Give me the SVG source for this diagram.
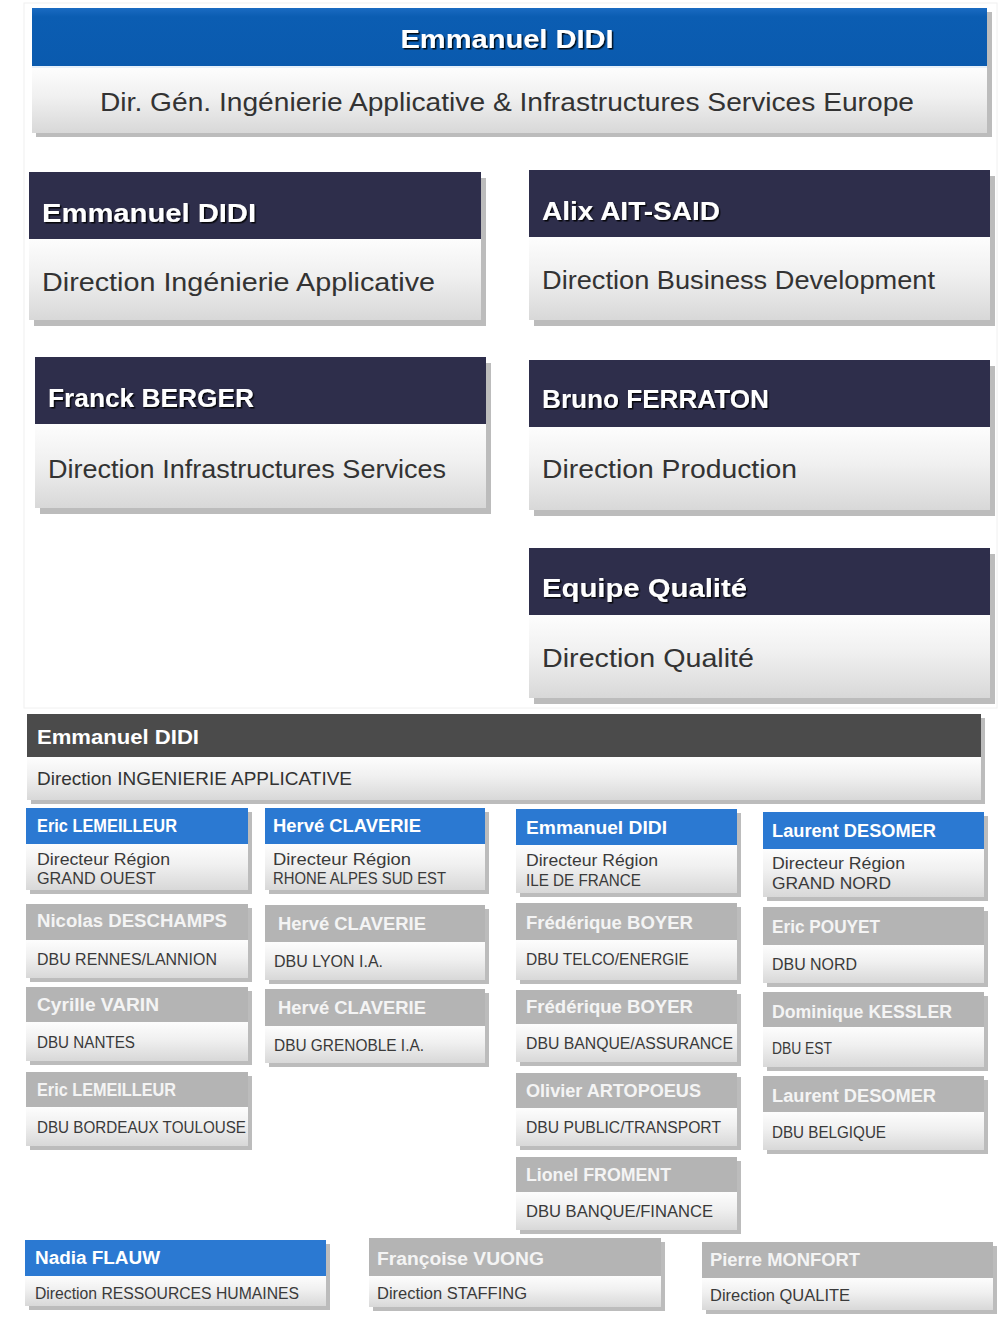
<svg xmlns="http://www.w3.org/2000/svg" width="1002" height="1325" viewBox="0 0 1002 1325">
<defs>
<linearGradient id="gBody" x1="0" y1="0" x2="0" y2="1">
<stop offset="0" stop-color="#fdfdfd"/>
<stop offset="0.45" stop-color="#f0f0f0"/>
<stop offset="1" stop-color="#d8d8d8"/>
</linearGradient>
<linearGradient id="gBlue" x1="0" y1="0" x2="0" y2="1">
<stop offset="0" stop-color="#1a6bc2"/>
<stop offset="0.15" stop-color="#0b5db2"/>
<stop offset="1" stop-color="#0a5aae"/>
</linearGradient>
<filter id="ts" x="-5%" y="-30%" width="110%" height="160%">
<feDropShadow dx="1.5" dy="1.5" stdDeviation="0.7" flood-color="#000" flood-opacity="0.85"/>
</filter>
</defs>
<style>
.sh{fill:#bcbcbc}
.body{fill:url(#gBody)}
.navy{fill:#2e2e4b}
.blue{fill:#2b79d2}
.gray{fill:#b4b4b4}
.dark{fill:#4b4b4b}
.t{font-family:"Liberation Sans",Arial,sans-serif}
.big{font-size:26px;font-weight:bold;fill:#fff}
.bigb{font-size:26px;fill:#333}
.mh{font-size:20px;font-weight:bold;fill:#fff}
.mb{font-size:19px;fill:#333}
.h{font-size:18px;font-weight:bold;fill:#fff}
.hg{font-size:18px;font-weight:bold;fill:#f4f4f4}
.b{font-size:16px;fill:#3a3a3a}
</style>
<rect width="1002" height="1325" fill="#fff"/>
<rect x="24" y="3" width="973" height="705" fill="none" stroke="#f0f0f0" stroke-width="1"/>

<g id="top">
<rect class="sh" x="36" y="12" width="956" height="125"/>
<rect x="32" y="8" width="955" height="58" fill="url(#gBlue)"/>
<rect x="32" y="66" width="955" height="2" fill="#e6f0fa"/>
<rect class="body" x="32" y="68" width="955" height="65"/>
<text class="t big" x="507" y="48" text-anchor="middle" textLength="213" lengthAdjust="spacingAndGlyphs" filter="url(#ts)">Emmanuel DIDI</text>
<text class="t bigb" x="507" y="111" text-anchor="middle" textLength="814" lengthAdjust="spacingAndGlyphs">Dir. Gén.  Ingénierie  Applicative &amp; Infrastructures Services  Europe</text>
</g>

<g id="card-didi">
<rect class="sh" x="34" y="178" width="452" height="148"/>
<rect class="navy" x="29" y="172" width="452" height="67"/>
<rect class="body" x="29" y="239" width="452" height="81"/>
<text class="t big" x="42" y="222" textLength="214" lengthAdjust="spacingAndGlyphs" filter="url(#ts)">Emmanuel DIDI</text>
<text class="t bigb" x="42" y="291" textLength="393" lengthAdjust="spacingAndGlyphs">Direction Ingénierie Applicative</text>
</g>

<g id="card-aitsaid">
<rect class="sh" x="534" y="176" width="461" height="150"/>
<rect class="navy" x="529" y="170" width="461" height="67"/>
<rect class="body" x="529" y="237" width="461" height="83"/>
<text class="t big" x="542" y="220" textLength="178" lengthAdjust="spacingAndGlyphs" filter="url(#ts)">Alix AIT-SAID</text>
<text class="t bigb" x="542" y="289" textLength="393" lengthAdjust="spacingAndGlyphs">Direction Business Development</text>
</g>

<g id="card-berger">
<rect class="sh" x="40" y="363" width="451" height="151"/>
<rect class="navy" x="35" y="357" width="451" height="67"/>
<rect class="body" x="35" y="424" width="451" height="84"/>
<text class="t big" x="48" y="407" textLength="206" lengthAdjust="spacingAndGlyphs" filter="url(#ts)">Franck BERGER</text>
<text class="t bigb" x="48" y="478" textLength="398" lengthAdjust="spacingAndGlyphs">Direction Infrastructures Services</text>
</g>

<g id="card-ferraton">
<rect class="sh" x="534" y="366" width="461" height="150"/>
<rect class="navy" x="529" y="360" width="461" height="67"/>
<rect class="body" x="529" y="427" width="461" height="83"/>
<text class="t big" x="542" y="408" textLength="227" lengthAdjust="spacingAndGlyphs" filter="url(#ts)">Bruno FERRATON</text>
<text class="t bigb" x="542" y="478" textLength="255" lengthAdjust="spacingAndGlyphs">Direction Production</text>
</g>

<g id="card-qualite">
<rect class="sh" x="534" y="554" width="461" height="150"/>
<rect class="navy" x="529" y="548" width="461" height="67"/>
<rect class="body" x="529" y="615" width="461" height="83"/>
<text class="t big" x="542" y="597" textLength="205" lengthAdjust="spacingAndGlyphs" filter="url(#ts)">Equipe Qualité</text>
<text class="t bigb" x="542" y="667" textLength="212" lengthAdjust="spacingAndGlyphs">Direction Qualité</text>
</g>

<g id="mid-didi">
<rect class="sh" x="31" y="718" width="954" height="86"/>
<rect class="dark" x="27" y="714" width="954" height="43"/>
<rect class="body" x="27" y="757" width="954" height="43"/>
<text class="t mh" x="37" y="744" textLength="162" lengthAdjust="spacingAndGlyphs">Emmanuel DIDI</text>
<text class="t mb" x="37" y="785" textLength="315" lengthAdjust="spacingAndGlyphs">Direction INGENIERIE APPLICATIVE</text>
</g>

<!-- Column 1 -->
<g id="r-lemeilleur">
<rect class="sh" x="30" y="812" width="222" height="82"/>
<rect class="blue" x="26" y="808" width="222" height="36"/>
<rect class="body" x="26" y="844" width="222" height="46"/>
<text class="t h" x="37" y="832" textLength="140" lengthAdjust="spacingAndGlyphs">Eric LEMEILLEUR</text>
<text class="t b" x="37" y="865" textLength="133" lengthAdjust="spacingAndGlyphs">Directeur Région</text>
<text class="t b" x="37" y="884" textLength="119" lengthAdjust="spacingAndGlyphs">GRAND  OUEST</text>
</g>
<g id="dbu-rennes">
<rect class="sh" x="30" y="908" width="222" height="74"/>
<rect class="gray" x="26" y="904" width="222" height="36"/>
<rect class="body" x="26" y="940" width="222" height="38"/>
<text class="t hg" x="37" y="927" textLength="190" lengthAdjust="spacingAndGlyphs">Nicolas DESCHAMPS</text>
<text class="t b" x="37" y="965" textLength="180" lengthAdjust="spacingAndGlyphs">DBU RENNES/LANNION</text>
</g>
<g id="dbu-nantes">
<rect class="sh" x="30" y="991" width="222" height="74"/>
<rect class="gray" x="26" y="987" width="222" height="35"/>
<rect class="body" x="26" y="1022" width="222" height="39"/>
<text class="t hg" x="37" y="1011" textLength="122" lengthAdjust="spacingAndGlyphs">Cyrille VARIN</text>
<text class="t b" x="37" y="1048" textLength="98" lengthAdjust="spacingAndGlyphs">DBU NANTES</text>
</g>
<g id="dbu-bordeaux">
<rect class="sh" x="30" y="1076" width="222" height="74"/>
<rect class="gray" x="26" y="1072" width="222" height="35"/>
<rect class="body" x="26" y="1107" width="222" height="39"/>
<text class="t hg" x="37" y="1096" textLength="139" lengthAdjust="spacingAndGlyphs">Eric LEMEILLEUR</text>
<text class="t b" x="37" y="1133" textLength="209" lengthAdjust="spacingAndGlyphs">DBU BORDEAUX TOULOUSE</text>
</g>

<!-- Column 2 -->
<g id="r-claverie">
<rect class="sh" x="269" y="812" width="220" height="82"/>
<rect class="blue" x="265" y="808" width="220" height="36"/>
<rect class="body" x="265" y="844" width="220" height="46"/>
<text class="t h" x="273" y="832" textLength="148" lengthAdjust="spacingAndGlyphs">Hervé CLAVERIE</text>
<text class="t b" x="273" y="865" textLength="138" lengthAdjust="spacingAndGlyphs">Directeur  Région</text>
<text class="t b" x="273" y="884" textLength="173" lengthAdjust="spacingAndGlyphs">RHONE ALPES SUD EST</text>
</g>
<g id="dbu-lyon">
<rect class="sh" x="269" y="909" width="220" height="75"/>
<rect class="gray" x="265" y="905" width="220" height="37"/>
<rect class="body" x="265" y="942" width="220" height="38"/>
<text class="t hg" x="278" y="930" textLength="148" lengthAdjust="spacingAndGlyphs">Hervé CLAVERIE</text>
<text class="t b" x="274" y="967" textLength="109" lengthAdjust="spacingAndGlyphs">DBU LYON I.A.</text>
</g>
<g id="dbu-grenoble">
<rect class="sh" x="269" y="993" width="220" height="74"/>
<rect class="gray" x="265" y="989" width="220" height="37"/>
<rect class="body" x="265" y="1026" width="220" height="37"/>
<text class="t hg" x="278" y="1014" textLength="148" lengthAdjust="spacingAndGlyphs">Hervé CLAVERIE</text>
<text class="t b" x="274" y="1051" textLength="150" lengthAdjust="spacingAndGlyphs">DBU GRENOBLE I.A.</text>
</g>

<!-- Column 3 -->
<g id="r-didi">
<rect class="sh" x="520" y="813" width="221" height="84"/>
<rect class="blue" x="516" y="809" width="221" height="36"/>
<rect class="body" x="516" y="845" width="221" height="48"/>
<text class="t h" x="526" y="834" textLength="141" lengthAdjust="spacingAndGlyphs">Emmanuel DIDI</text>
<text class="t b" x="526" y="866" textLength="132" lengthAdjust="spacingAndGlyphs">Directeur Région</text>
<text class="t b" x="526" y="886" textLength="115" lengthAdjust="spacingAndGlyphs">ILE DE FRANCE</text>
</g>
<g id="dbu-telco">
<rect class="sh" x="520" y="907" width="221" height="77"/>
<rect class="gray" x="516" y="903" width="221" height="37"/>
<rect class="body" x="516" y="940" width="221" height="40"/>
<text class="t hg" x="526" y="929" textLength="167" lengthAdjust="spacingAndGlyphs">Frédérique BOYER</text>
<text class="t b" x="526" y="965" textLength="163" lengthAdjust="spacingAndGlyphs">DBU TELCO/ENERGIE</text>
</g>
<g id="dbu-banque-assurance">
<rect class="sh" x="520" y="994" width="221" height="72"/>
<rect class="gray" x="516" y="990" width="221" height="34"/>
<rect class="body" x="516" y="1024" width="221" height="38"/>
<text class="t hg" x="526" y="1013" textLength="167" lengthAdjust="spacingAndGlyphs">Frédérique BOYER</text>
<text class="t b" x="526" y="1049" textLength="207" lengthAdjust="spacingAndGlyphs">DBU BANQUE/ASSURANCE</text>
</g>
<g id="dbu-public">
<rect class="sh" x="520" y="1077" width="221" height="73"/>
<rect class="gray" x="516" y="1073" width="221" height="35"/>
<rect class="body" x="516" y="1108" width="221" height="38"/>
<text class="t hg" x="526" y="1097" textLength="175" lengthAdjust="spacingAndGlyphs">Olivier ARTOPOEUS</text>
<text class="t b" x="526" y="1133" textLength="195" lengthAdjust="spacingAndGlyphs">DBU  PUBLIC/TRANSPORT</text>
</g>
<g id="dbu-banque-finance">
<rect class="sh" x="520" y="1161" width="221" height="73"/>
<rect class="gray" x="516" y="1157" width="221" height="35"/>
<rect class="body" x="516" y="1192" width="221" height="38"/>
<text class="t hg" x="526" y="1181" textLength="145" lengthAdjust="spacingAndGlyphs">Lionel FROMENT</text>
<text class="t b" x="526" y="1217" textLength="187" lengthAdjust="spacingAndGlyphs">DBU  BANQUE/FINANCE</text>
</g>

<!-- Column 4 -->
<g id="r-desomer">
<rect class="sh" x="767" y="816" width="221" height="85"/>
<rect class="blue" x="763" y="812" width="221" height="37"/>
<rect class="body" x="763" y="849" width="221" height="48"/>
<text class="t h" x="772" y="837" textLength="164" lengthAdjust="spacingAndGlyphs">Laurent DESOMER</text>
<text class="t b" x="772" y="869" textLength="133" lengthAdjust="spacingAndGlyphs">Directeur Région</text>
<text class="t b" x="772" y="889" textLength="119" lengthAdjust="spacingAndGlyphs">GRAND  NORD</text>
</g>
<g id="dbu-nord">
<rect class="sh" x="767" y="911" width="221" height="76"/>
<rect class="gray" x="763" y="907" width="221" height="38"/>
<rect class="body" x="763" y="945" width="221" height="38"/>
<text class="t hg" x="772" y="933" textLength="108" lengthAdjust="spacingAndGlyphs">Eric POUYET</text>
<text class="t b" x="772" y="970" textLength="85" lengthAdjust="spacingAndGlyphs">DBU NORD</text>
</g>
<g id="dbu-est">
<rect class="sh" x="767" y="996" width="221" height="75"/>
<rect class="gray" x="763" y="992" width="221" height="35"/>
<rect class="body" x="763" y="1027" width="221" height="40"/>
<text class="t hg" x="772" y="1018" textLength="180" lengthAdjust="spacingAndGlyphs">Dominique KESSLER</text>
<text class="t b" x="772" y="1054" textLength="60" lengthAdjust="spacingAndGlyphs">DBU EST</text>
</g>
<g id="dbu-belgique">
<rect class="sh" x="767" y="1080" width="221" height="74"/>
<rect class="gray" x="763" y="1076" width="221" height="36"/>
<rect class="body" x="763" y="1112" width="221" height="38"/>
<text class="t hg" x="772" y="1102" textLength="164" lengthAdjust="spacingAndGlyphs">Laurent DESOMER</text>
<text class="t b" x="772" y="1138" textLength="114" lengthAdjust="spacingAndGlyphs">DBU BELGIQUE</text>
</g>

<!-- Bottom row -->
<g id="dir-rh">
<rect class="sh" x="29" y="1244" width="301" height="66"/>
<rect class="blue" x="25" y="1240" width="301" height="36"/>
<rect class="body" x="25" y="1276" width="301" height="30"/>
<text class="t h" x="35" y="1264" textLength="125" lengthAdjust="spacingAndGlyphs">Nadia FLAUW</text>
<text class="t b" x="35" y="1299" textLength="264" lengthAdjust="spacingAndGlyphs">Direction RESSOURCES HUMAINES</text>
</g>
<g id="dir-staffing">
<rect class="sh" x="373" y="1242" width="292" height="69"/>
<rect class="gray" x="369" y="1238" width="292" height="38"/>
<rect class="body" x="369" y="1276" width="292" height="31"/>
<text class="t hg" x="377" y="1265" textLength="167" lengthAdjust="spacingAndGlyphs">Françoise VUONG</text>
<text class="t b" x="377" y="1299" textLength="150" lengthAdjust="spacingAndGlyphs">Direction STAFFING</text>
</g>
<g id="dir-qualite">
<rect class="sh" x="706" y="1246" width="291" height="68"/>
<rect class="gray" x="702" y="1242" width="291" height="36"/>
<rect class="body" x="702" y="1278" width="291" height="32"/>
<text class="t hg" x="710" y="1266" textLength="150" lengthAdjust="spacingAndGlyphs">Pierre MONFORT</text>
<text class="t b" x="710" y="1301" textLength="140" lengthAdjust="spacingAndGlyphs">Direction QUALITE</text>
</g>

<g id="connectors"/>
</svg>
